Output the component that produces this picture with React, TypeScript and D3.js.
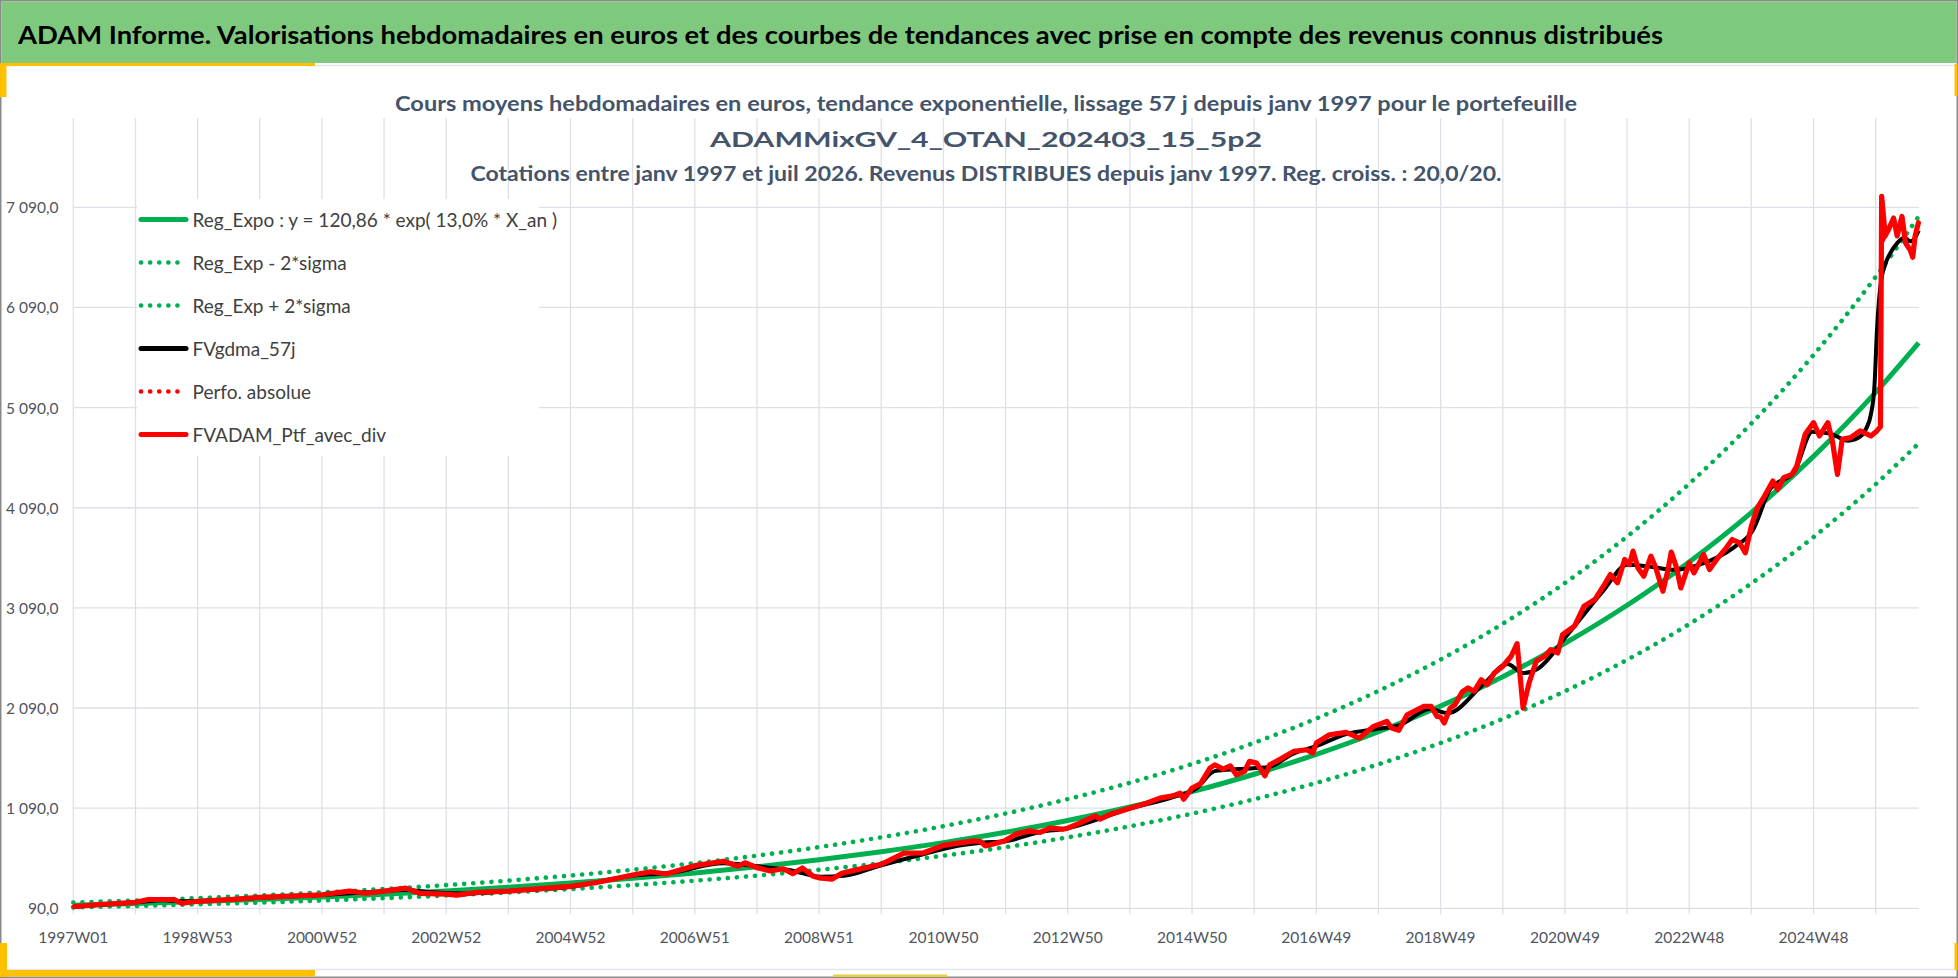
import React from "react";
import * as d3 from "d3";

const W = 1958;
const H = 978;

const headerTitle =
  "ADAM Informe. Valorisations hebdomadaires en euros et des courbes de tendances avec prise en compte des revenus connus distribués";
const titleLines = [
  "Cours moyens hebdomadaires  en euros, tendance exponentielle, lissage 57 j depuis janv 1997 pour le portefeuille",
  "ADAMMixGV_4_OTAN_202403_15_5p2",
  "Cotations entre janv 1997 et juil 2026. Revenus DISTRIBUES depuis janv 1997. Reg. croiss. : 20,0/20.",
];

const xTickLabels = [
  "1997W01", "1998W53", "2000W52", "2002W52", "2004W52", "2006W51", "2008W51", "2010W50",
  "2012W50", "2014W50", "2016W49", "2018W49", "2020W49", "2022W48", "2024W48",
];
const yTicks = [90, 1090, 2090, 3090, 4090, 5090, 6090, 7090];

const legendLabels = [
  "Reg_Expo : y = 120,86 *  exp( 13,0% *  X_an )",
  "Reg_Exp - 2*sigma",
  "Reg_Exp + 2*sigma",
  "FVgdma_57j",
  "Perfo. absolue",
  "FVADAM_Ptf_avec_div",
];

// weekly index (0 = 1997W01)
const trendWeeks = [
  0, 52, 104, 156, 208, 260, 312, 364, 416, 468, 520, 572, 624, 676, 728, 780, 832, 884, 936, 988,
  1040, 1092, 1144, 1196, 1248, 1300, 1352, 1404, 1456, 1508, 1544,
];
const trendValues = [
  120.9, 137.6, 156.7, 178.5, 203.3, 231.5, 263.6, 300.2, 341.9, 389.4, 443.4, 505.0, 575.1, 654.9,
  745.8, 849.4, 967.3, 1101.6, 1254.5, 1428.7, 1627.0, 1852.9, 2110.2, 2403.1, 2736.7, 3116.6,
  3549.3, 4042.1, 4603.2, 5242.3, 5737,
];
const upperValues = [
  147.5, 167.9, 191.2, 217.8, 248.0, 282.4, 321.6, 366.2, 417.1, 475.1, 541.0, 616.1, 701.6, 799.0,
  909.9, 1036.3, 1180.1, 1344.0, 1530.5, 1743.0, 1984.9, 2260.5, 2574.4, 2931.8, 3338.8, 3802.3,
  4330.1, 4931.4, 5615.9, 6395.6, 6999,
];
const lowerValues = [
  99.7, 113.5, 129.3, 147.3, 167.7, 191.0, 217.5, 247.7, 282.1, 321.3, 365.8, 416.6, 474.5, 540.3,
  615.3, 700.8, 798.0, 908.8, 1035.0, 1178.7, 1342.3, 1528.6, 1740.9, 1982.6, 2257.8, 2571.2,
  2928.2, 3334.7, 3797.6, 4324.9, 4733,
];

const redWeeks = [
  0, 22, 52, 63, 84, 91, 104, 134, 156, 181, 208, 231, 245, 260, 278, 290, 312, 321, 338, 364,
  416, 438, 468, 483, 496, 520, 544, 556, 562, 572, 583, 594, 602, 610, 619, 624, 635, 643, 655, 676,
  695, 711, 728, 753, 759, 763, 772, 779, 789, 800, 809, 817, 828, 832, 842, 855, 859, 870, 884, 898,
  909, 920, 926, 929, 936, 943, 951, 955, 962, 968, 973, 980, 984, 990, 997, 1001, 1010, 1021, 1032, 1037,
  1040, 1051, 1065, 1076, 1088, 1099, 1103, 1109, 1116, 1130, 1136, 1141, 1144, 1147, 1152, 1156, 1162, 1167, 1172, 1178,
  1183, 1189, 1196, 1203, 1208, 1213, 1218, 1224, 1231, 1236, 1242, 1246, 1248, 1256, 1264, 1273, 1281, 1286, 1292, 1298,
  1302, 1305, 1309, 1314, 1320, 1324, 1330, 1334, 1337, 1341, 1345, 1352, 1356, 1364, 1369, 1376, 1383, 1388, 1394, 1399,
  1404, 1409, 1415, 1422, 1426, 1431, 1438, 1442, 1449, 1456, 1461, 1468, 1472, 1476, 1480, 1487, 1495, 1504, 1509, 1512,
  1513, 1516, 1519, 1523, 1526, 1530, 1533, 1537, 1539, 1541, 1544,
];
const redValues = [
  106, 128, 150, 178, 178, 140, 160, 180, 200, 212, 225, 262, 240, 262, 292, 240, 232, 222, 250, 262,
  309, 348, 422, 455, 433, 516, 560, 510, 545, 496, 463, 485, 436, 493, 411, 394, 382, 440, 474, 530,
  641, 642, 719, 763, 757, 713, 740, 763, 833, 863, 847, 890, 880, 890, 940, 1013, 980, 1040, 1090, 1140,
  1190, 1213, 1240, 1180, 1290, 1333, 1490, 1523, 1480, 1513, 1423, 1457, 1557, 1540, 1413, 1523, 1580, 1657, 1673, 1640,
  1740, 1823, 1847, 1790, 1907, 1957, 1890, 1867, 2023, 2107, 2107, 2007, 2000, 1940, 2090, 2123, 2250, 2290, 2257, 2373,
  2323, 2440, 2507, 2607, 2733, 2090, 2340, 2557, 2607, 2673, 2640, 2823, 2840, 2907, 3107, 3173, 3323, 3423, 3340, 3573,
  3523, 3657, 3490, 3407, 3607, 3490, 3257, 3457, 3647, 3507, 3290, 3540, 3440, 3623, 3473, 3590, 3690, 3773, 3740, 3640,
  3907, 4090, 4207, 4357, 4273, 4390, 4423, 4507, 4823, 4940, 4807, 4940, 4740, 4423, 4773, 4790, 4857, 4807, 4857, 4900,
  7200, 6805, 6876, 6983, 6805, 6999, 6733, 6662, 6591, 6805, 6947,
];

const blackWeeks = [
  0, 52, 75, 95, 130, 160, 208, 250, 278, 300, 330, 364, 416, 468, 500, 544, 572, 600, 625, 645,
  676, 711, 740, 760, 780, 810, 830, 860, 884, 920, 940, 955, 975, 1000, 1020, 1040, 1065, 1090, 1110, 1135,
  1150, 1180, 1200, 1213, 1225, 1250, 1280, 1300, 1320, 1340, 1360, 1390, 1405, 1420, 1440, 1455, 1470, 1485, 1495, 1500,
  1504, 1507, 1509, 1512, 1516, 1520, 1526, 1532, 1537, 1540, 1544,
];
const blackValues = [
  106, 148, 170, 160, 178, 198, 222, 252, 272, 250, 238, 262, 305, 415, 445, 540, 510, 470, 405, 415,
  520, 630, 715, 745, 760, 855, 885, 990, 1085, 1200, 1290, 1460, 1480, 1500, 1630, 1710, 1830, 1880, 1920, 2080,
  2040, 2330, 2530, 2440, 2480, 2820, 3260, 3520, 3500, 3470, 3520, 3700, 3860, 4280, 4450, 4850, 4830, 4760, 4800, 4880,
  5022, 5307, 5842, 6306, 6520, 6627, 6733, 6787, 6751, 6769, 6858,
];

const GREEN = "#00B050";
const RED = "#FF0000";
const GRID = "#DDE0E6";
const AXIS_TXT = "#505560";
const TITLE_TXT = "#44546A";
const YELLOW = "#FFC000";
const FONT = "Lato, 'Open Sans', 'DejaVu Sans', sans-serif";

export default function App() {
  const x = d3.scaleLinear().domain([0, 1544]).range([73.3, 1918.7]);
  const y = d3.scaleLinear().domain([90, 7980]).range([908.3, 118.2]);
  const locale = d3.formatLocale({ decimal: ",", thousands: " ", grouping: [3], currency: ["", " €"] });
  const fmt = locale.format(",.1f");

  const mk = (ws: number[], vs: number[], curve: d3.CurveFactory) =>
    d3
      .line<number>()
      .x((_, i) => x(ws[i]))
      .y((d) => y(d))
      .curve(curve)(vs) || "";

  const gridWeeks = d3.range(0, 1545, 52);
  const labelWeeks = xTickLabels.map((_, i) => i * 104);
  const [x0, x1] = x.range();
  const [yb, yt] = y.range();

  const dotted = { strokeDasharray: "0.1 9", strokeLinecap: "round" as const };

  const legendRows = [
    { stroke: GREEN, width: 5, dash: false },
    { stroke: GREEN, width: 4.6, dash: true },
    { stroke: GREEN, width: 4.6, dash: true },
    { stroke: "#000000", width: 5, dash: false },
    { stroke: RED, width: 4.6, dash: true },
    { stroke: RED, width: 5, dash: false },
  ];

  return (
    <svg
      width={W}
      height={H}
      viewBox={`0 0 ${W} ${H}`}
      style={{ position: "absolute", left: 0, top: 0, background: "#fff" }}
      fontFamily={FONT}
    >
      <rect x={0.75} y={0.75} width={W - 1.5} height={H - 1.5} fill="#fff" stroke="#8a8a8a" strokeWidth={1.5} />
      {/* header band */}
      <rect x={1.5} y={1.5} width={W - 3} height={61.5} fill="#7EC97E" />
      <text
        x={18}
        y={34}
        fontSize={25}
        fontWeight={700}
        fill="#000"
        dominantBaseline="central"
        textLength={1645}
        lengthAdjust="spacingAndGlyphs"
      >
        {headerTitle}
      </text>
      <line x1={7} x2={W - 3} y1={65.5} y2={65.5} stroke="#E3E6EA" strokeWidth={1.5} />
      <line x1={7} x2={W - 3} y1={969.5} y2={969.5} stroke="#E3E6EA" strokeWidth={1.5} />
      {/* yellow accents */}
      <rect x={5} y={63} width={310} height={3} fill={YELLOW} />
      <rect x={0} y={63} width={6.5} height={34} fill={YELLOW} />
      <rect x={0} y={943} width={7} height={34} fill={YELLOW} />
      <rect x={5} y={970} width={310} height={6.5} fill={YELLOW} />
      <rect x={W - 3.5} y={64} width={3} height={32} fill={YELLOW} />
      <rect x={W - 3.5} y={943} width={3} height={27} fill={YELLOW} />
      <rect x={833} y={974.5} width={114} height={2.5} fill="#E6D23A" />

      {/* gridlines */}
      {yTicks.map((v) => (
        <line key={"h" + v} x1={x0} x2={x1} y1={y(v)} y2={y(v)} stroke={GRID} strokeWidth={1.3} />
      ))}
      {gridWeeks.map((w) => (
        <line key={"v" + w} x1={x(w)} x2={x(w)} y1={yt} y2={yb + 6} stroke={GRID} strokeWidth={1.3} />
      ))}

      {/* titles */}
      {titleLines.map((t, i) => (
        <text
          key={"t" + i}
          x={986}
          y={[103, 138, 173][i]}
          textAnchor="middle"
          dominantBaseline="central"
          fontSize={[20.5, 21, 20.5][i]}
          fontWeight={700}
          fill={TITLE_TXT}
          textLength={[1182, 552, 1031][i]}
          lengthAdjust="spacingAndGlyphs"
        >
          {t}
        </text>
      ))}

      {/* axis labels */}
      {yTicks.map((v) => (
        <text
          key={"yl" + v}
          x={58.5}
          y={y(v)}
          textAnchor="end"
          dominantBaseline="central"
          fontSize={15.5}
          fill={AXIS_TXT}
        >
          {fmt(v)}
        </text>
      ))}
      {xTickLabels.map((lab, i) => (
        <text
          key={"xl" + i}
          x={x(labelWeeks[i])}
          y={937}
          textAnchor="middle"
          dominantBaseline="central"
          fontSize={15.5}
          fill={AXIS_TXT}
        >
          {lab}
        </text>
      ))}

      {/* series */}
      <path d={mk(trendWeeks, trendValues, d3.curveMonotoneX)} fill="none" stroke={GREEN} strokeWidth={5} />
      <path d={mk(trendWeeks, lowerValues, d3.curveMonotoneX)} fill="none" stroke={GREEN} strokeWidth={4.6} {...dotted} />
      <path d={mk(trendWeeks, upperValues, d3.curveMonotoneX)} fill="none" stroke={GREEN} strokeWidth={4.6} {...dotted} />
      <path
        d={mk(blackWeeks, blackValues, d3.curveMonotoneX)}
        fill="none"
        stroke="#000"
        strokeWidth={4}
        strokeLinejoin="round"
      />
      <path d={mk(redWeeks, redValues, d3.curveLinear)} fill="none" stroke={RED} strokeWidth={4} {...dotted} />
      <path
        d={mk(redWeeks, redValues, d3.curveLinear)}
        fill="none"
        stroke={RED}
        strokeWidth={5.2}
        strokeLinejoin="round"
      />

      {/* legend */}
      <rect x={137} y={199} width={402} height={257} fill="#fff" />
      {legendLabels.map((lab, i) => {
        const ry = 219.5 + 43 * i;
        const r = legendRows[i];
        return (
          <g key={"lg" + i}>
            <line
              x1={141}
              x2={186}
              y1={ry}
              y2={ry}
              stroke={r.stroke}
              strokeWidth={r.width}
              strokeLinecap="round"
              strokeDasharray={r.dash ? "0.1 9" : undefined}
            />
            <text x={192.5} y={ry} dominantBaseline="central" fontSize={19} fill="#404040">
              {lab}
            </text>
          </g>
        );
      })}
    </svg>
  );
}
